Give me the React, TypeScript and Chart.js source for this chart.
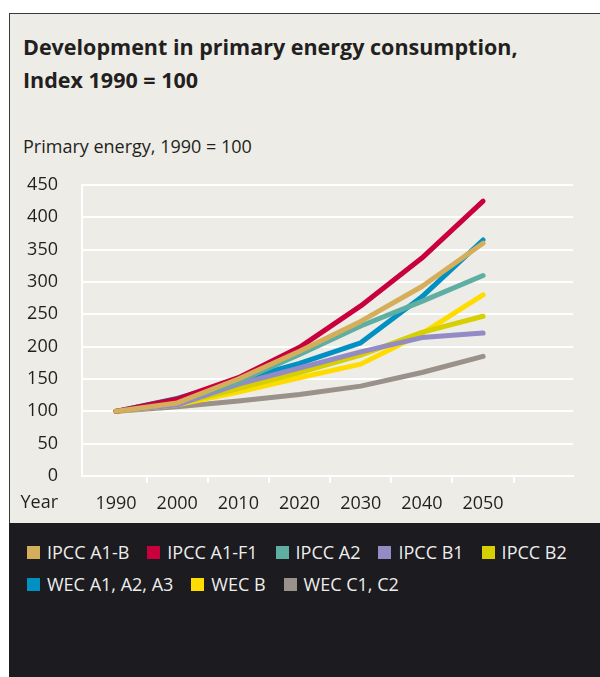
import React, { useEffect, useRef } from 'react';
import { Chart, registerables } from 'chart.js';

Chart.register(...registerables);

// ---- data ----
const years = [1990, 2000, 2010, 2020, 2030, 2040, 2050];
const yTickValues = [0, 50, 100, 150, 200, 250, 300, 350, 400, 450];
const xTickMarkValues = [1995, 2005, 2015, 2025, 2035, 2045, 2055];

const seriesNames = [
  'IPCC A1-B',
  'IPCC A1-F1',
  'IPCC A2',
  'IPCC B1',
  'IPCC B2',
  'WEC A1, A2, A3',
  'WEC B',
  'WEC C1, C2',
];

const ipccA1B = [100, 113, 150, 193, 239, 293, 360];
const ipccA1F1 = [100, 119, 152, 199, 263, 337, 425];
const ipccA2 = [100, 114, 146, 188, 232, 270, 310];
const ipccB1 = [100, 110, 142, 167, 192, 214, 221];
const ipccB2 = [100, 111, 135, 160, 187, 222, 247];
const wecA = [100, 120, 148, 174, 206, 277, 365];
const wecB = [100, 110, 130, 152, 173, 220, 280];
const wecC = [100, 107, 116, 126, 139, 160, 185];

const seriesValues = [ipccA1B, ipccA1F1, ipccA2, ipccB1, ipccB2, wecA, wecB, wecC];

const seriesColors = [
  '#D5AE5B',
  '#C9003C',
  '#5EAEA2',
  '#938BC6',
  '#D6D000',
  '#0090C3',
  '#FFDC00',
  '#9A918A',
];

const legendRows = [
  [0, 1, 2, 3, 4],
  [5, 6, 7],
];

const FONT = '"Open Sans", "DejaVu Sans", sans-serif';
const TEXT = '#231F20';

export default function App() {
  const canvasRef = useRef<HTMLCanvasElement | null>(null);

  useEffect(() => {
    const canvas = canvasRef.current;
    if (!canvas) return;
    const chart = new Chart(canvas, {
      type: 'line',
      data: {
        datasets: seriesNames.map((name, i) => ({
          label: name,
          data: years.map((yr, j) => ({ x: yr, y: seriesValues[i][j] })),
          borderColor: seriesColors[i],
          backgroundColor: seriesColors[i],
          borderWidth: 5,
          borderCapStyle: 'round',
          borderJoinStyle: 'round',
          pointRadius: 0,
          pointHoverRadius: 0,
          tension: 0,
          fill: false,
        })),
      },
      options: {
        animation: false,
        responsive: false,
        maintainAspectRatio: false,
        devicePixelRatio: 1,
        layout: { padding: { left: 10, right: 27, top: 185, bottom: 0 } },
        plugins: {
          legend: { display: false },
          tooltip: { enabled: false },
        },
        scales: {
          x: {
            type: 'linear',
            position: 'bottom',
            weight: 1,
            min: 1984.44,
            max: 2064.7,
            afterBuildTicks: (s: any) => {
              s.ticks = years.map((v) => ({ value: v }));
            },
            afterFit: (s: any) => {
              s.height = 40;
            },
            ticks: {
              autoSkip: false,
              maxRotation: 0,
              padding: 10,
              color: TEXT,
              font: { family: FONT, size: 18 },
              callback: (v: any) => String(v),
            },
            grid: { display: false, drawTicks: false },
            border: { display: false },
          },
          x2: {
            type: 'linear',
            position: 'bottom',
            weight: 0,
            min: 1984.44,
            max: 2064.7,
            afterBuildTicks: (s: any) => {
              s.ticks = xTickMarkValues.map((v) => ({ value: v }));
            },
            afterFit: (s: any) => {
              s.height = 7;
            },
            ticks: { display: false },
            grid: {
              drawOnChartArea: false,
              drawTicks: true,
              tickLength: 7,
              color: '#FFFFFF',
              lineWidth: 2,
            },
            border: { display: true, color: '#FFFFFF', width: 2 },
          },
          y: {
            min: 0,
            max: 450,
            afterBuildTicks: (s: any) => {
              s.ticks = yTickValues.map((v) => ({ value: v }));
            },
            afterFit: (s: any) => {
              s.width = 72;
            },
            ticks: {
              padding: 24,
              color: TEXT,
              font: { family: FONT, size: 18 },
            },
            grid: { color: '#FFFFFF', lineWidth: 2, drawTicks: false },
            border: { display: true, color: '#FFFFFF', width: 2 },
          },
        },
      } as any,
    });
    return () => chart.destroy();
  }, []);

  return (
    <div
      style={{
        position: 'fixed',
        left: 0,
        top: 0,
        width: 600,
        height: 677,
        background: '#FFFFFF',
        overflow: 'hidden',
        fontFamily: FONT,
      }}
    >
      <div
        style={{
          position: 'absolute',
          left: 9,
          top: 13,
          right: 0,
          bottom: 0,
          background: '#EDECE6',
          borderLeft: '1.5px solid #3A3A3A',
          borderTop: '1.5px solid #3A3A3A',
        }}
      />
      <div
        style={{
          position: 'absolute',
          left: 9,
          top: 523,
          right: 0,
          bottom: 0,
          background: '#1C1B1F',
        }}
      />
      <div
        style={{
          position: 'absolute',
          left: 23,
          top: 30,
          fontSize: 21.5,
          lineHeight: '33px',
          fontWeight: 700,
          color: TEXT,
          whiteSpace: 'nowrap',
        }}
      >
        Development in primary energy consumption,
        <br />
        Index 1990 = 100
      </div>
      <div
        style={{
          position: 'absolute',
          left: 23,
          top: 136,
          fontSize: 18,
          lineHeight: '20px',
          color: TEXT,
          whiteSpace: 'nowrap',
        }}
      >
        Primary energy, 1990 = 100
      </div>
      <canvas
        ref={canvasRef}
        width={600}
        height={523}
        style={{ position: 'absolute', left: 0, top: 0, width: 600, height: 523, display: 'block' }}
      />
      <div
        style={{
          position: 'absolute',
          left: 0,
          top: 492,
          width: 58,
          textAlign: 'right',
          fontSize: 18,
          lineHeight: '18px',
          color: TEXT,
        }}
      >
        Year
      </div>
      <div style={{ position: 'absolute', left: 27, top: 536 }}>
        {legendRows.map((row, r) => (
          <div key={r} style={{ display: 'flex', alignItems: 'center', height: 32 }}>
            {row.map((i) => (
              <div key={i} style={{ display: 'flex', alignItems: 'center', marginRight: 18 }}>
                <span
                  style={{
                    display: 'inline-block',
                    width: 13,
                    height: 13,
                    background: seriesColors[i],
                    marginRight: 7,
                  }}
                />
                <span
                  style={{
                    fontSize: 18,
                    lineHeight: '32px',
                    color: '#EEEEEE',
                    whiteSpace: 'nowrap',
                  }}
                >
                  {seriesNames[i]}
                </span>
              </div>
            ))}
          </div>
        ))}
      </div>
    </div>
  );
}
